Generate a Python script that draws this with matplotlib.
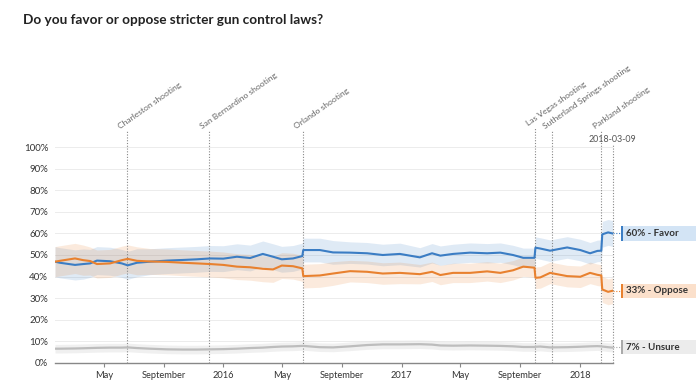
import numpy as np
import pandas as pd
import matplotlib
matplotlib.use("Agg")
import matplotlib.pyplot as plt
import matplotlib.dates as mdates
import matplotlib.transforms as mtransforms
from matplotlib.patches import Rectangle

plt.rcParams['font.family'] = ['Lato', 'DejaVu Sans']

# poll average
dates = pd.to_datetime([
    "2015-01-21", "2015-01-31", "2015-03-03", "2015-03-20", "2015-04-03", "2015-04-17",
    "2015-05-14", "2015-06-07", "2015-06-19", "2015-07-08", "2015-08-04", "2015-09-08",
    "2015-10-10", "2015-11-08", "2015-12-05",
    "2016-01-01", "2016-01-29", "2016-02-25", "2016-03-22", "2016-04-12", "2016-04-30",
    "2016-05-23", "2016-06-11", "2016-06-13", "2016-07-17", "2016-08-13", "2016-09-17",
    "2016-10-22", "2016-11-23", "2016-12-28",
    "2017-02-07", "2017-03-04", "2017-03-21", "2017-04-16", "2017-05-21", "2017-06-25",
    "2017-07-22", "2017-08-17", "2017-09-07", "2017-09-30", "2017-10-02", "2017-10-12",
    "2017-11-01", "2017-12-06",
    "2018-01-02", "2018-01-22", "2018-02-06", "2018-02-14", "2018-02-16", "2018-02-28",
    "2018-03-09"])

favor = [46.9, 46.4, 45.4, 45.8, 46.1, 47.4, 47.1, 46.1, 45.2, 46.4, 46.9, 47.4, 47.7, 48.0, 48.4,
         48.3, 49.2, 48.6, 50.5, 49.2, 48.0, 48.4, 49.5, 52.3, 52.3, 51.2, 51.1, 50.8, 50.0, 50.5,
         48.9, 50.8, 49.7, 50.5, 51.1, 50.8, 51.1, 50.0, 48.7, 48.7, 53.4, 53.0, 52.0, 53.5,
         52.3, 50.8, 51.9, 52.0, 59.6, 60.5, 60.0]
oppose = [46.9, 47.3, 48.4, 47.6, 47.2, 45.8, 46.1, 47.6, 48.2, 47.3, 47.0, 46.8, 46.4, 46.1, 45.8,
          45.4, 44.6, 44.3, 43.6, 43.3, 45.1, 44.8, 43.8, 40.2, 40.5, 41.4, 42.5, 42.2, 41.4, 41.7,
          41.1, 42.2, 40.7, 41.7, 41.7, 42.4, 41.7, 42.9, 44.6, 44.1, 39.4, 39.6, 41.7, 40.2,
          39.9, 41.7, 40.8, 40.5, 34.0, 32.9, 33.4]
unsure = [6.5, 6.5, 6.6, 6.7, 6.8, 6.9, 7.0, 7.0, 7.1, 6.8, 6.5, 6.2, 6.1, 6.1, 6.2,
          6.3, 6.5, 6.8, 7.0, 7.3, 7.5, 7.6, 7.8, 7.8, 7.2, 7.1, 7.6, 8.2, 8.5, 8.5,
          8.6, 8.4, 8.0, 7.9, 8.0, 7.9, 7.8, 7.6, 7.3, 7.3, 7.4, 7.5, 7.1, 7.2,
          7.4, 7.6, 7.7, 7.6, 7.5, 7.2, 7.0]
# margin of error (half width of the shaded bands)
moe = [7, 7, 7, 7, 6.5, 6.5, 6.5, 6.5, 6.5, 6.5, 6, 6, 6, 6, 6,
       6, 6, 6, 6, 6, 6, 6, 6, 5.5, 5.5, 5.5, 5, 5, 5, 5,
       4.5, 4.5, 4.5, 4.5, 4.5, 4.5, 4.5, 4.5, 4.5, 4.5, 5, 5, 5, 5,
       5, 5, 5, 5, 6, 6, 6]
moe_unsure = 2.0

events = ["Charleston shooting", "San Bernardino shooting", "Orlando shooting",
          "Las Vegas shooting", "Sutherland Springs shooting", "Parkland shooting"]
event_dates = pd.to_datetime(["2015-06-17", "2015-12-02", "2016-06-12",
                              "2017-10-01", "2017-11-05", "2018-02-14"])
last_date = pd.Timestamp("2018-03-09")

tick_dates = pd.to_datetime(["2015-05-01", "2015-09-01", "2016-01-01", "2016-05-01",
                             "2016-09-01", "2017-01-01", "2017-05-01", "2017-09-01", "2018-01-01"])
tick_labels = ["May", "September", "2016", "May", "September", "2017", "May", "September", "2018"]

end_labels = ["60% - Favor", "33% - Oppose", "7% - Unsure"]
end_values = [60, 33.4, 7.2]

blue = "#3b7dc4"
orange = "#e8812f"
grey = "#bdbdbd"

W, H = 700, 384
fig = plt.figure(figsize=(7, 3.84), dpi=100)
ax = fig.add_axes([55 / W, 1 - 362.7 / H, 558 / W, 215.4 / H])

favor = np.array(favor)
oppose = np.array(oppose)
unsure = np.array(unsure)
moe = np.array(moe)

ax.fill_between(dates, unsure - moe_unsure, unsure + moe_unsure, color="#e6e6e6", alpha=0.6, lw=0)
ax.fill_between(dates, favor - moe, favor + moe, color=blue, alpha=0.16, lw=0)
ax.fill_between(dates, oppose - moe, oppose + moe, color=orange, alpha=0.16, lw=0)
ax.plot(dates, unsure, color=grey, lw=1.6, solid_joinstyle="round")
ax.plot(dates, favor, color=blue, lw=1.5, solid_joinstyle="round")
ax.plot(dates, oppose, color=orange, lw=1.5, solid_joinstyle="round")

ax.set_xlim(pd.Timestamp("2015-01-21"), pd.Timestamp("2018-03-10"))
ax.set_ylim(0, 100)

ax.set_yticks(range(0, 101, 10))
ax.set_yticklabels([f"{v}%" for v in range(0, 101, 10)])
ax.set_xticks(tick_dates)
ax.set_xticklabels(tick_labels)
ax.tick_params(axis="y", length=0, pad=5, labelsize=7, labelcolor="#333333")
ax.tick_params(axis="x", length=3, width=0.8, color="#888888", pad=3, labelsize=6.7,
               labelcolor="#333333")
for v in range(10, 101, 10):
    ax.axhline(v, color="#ececec", lw=0.7, zorder=0)
for s in ["top", "right", "left"]:
    ax.spines[s].set_visible(False)
ax.spines["bottom"].set_color("#888888")
ax.spines["bottom"].set_linewidth(1.0)

# event markers
trans = mtransforms.blended_transform_factory(ax.transData, ax.transAxes)
tops = [1.075, 1.075, 1.075, 1.09, 1.075, 1.075]
for name, d, top in zip(events, event_dates, tops):
    xd = mdates.date2num(d)
    ax.plot([xd, xd], [0, top], transform=trans, color="#888888", lw=0.8, ls=(0, (1, 1.5)),
            clip_on=False, zorder=1)
    ax.annotate(name, xy=(xd, top), xycoords=trans, xytext=(-4, 1), textcoords="offset points",
                rotation=35, rotation_mode="anchor", ha="left", va="bottom",
                fontsize=6.1, color="#666666")
xl = mdates.date2num(last_date)
ax.plot([xl, xl], [0, 1.01], transform=trans, color="#888888", lw=0.8,
        ls=(0, (1, 1.5)), clip_on=False, zorder=1)
ax.text(xl, 1.035, last_date.strftime("%Y-%m-%d"), transform=trans, ha="center",
        va="center", fontsize=6.4, color="#555555")

# end labels
ftrans = mtransforms.blended_transform_factory(fig.transFigure, ax.transData)
box_colors = ["#d3e4f5", "#fbe0cb", "#ececec"]
bar_colors = [blue, orange, "#aaaaaa"]
for lab, v, bc, c in zip(end_labels, end_values, box_colors, bar_colors):
    h = 6.6
    fig.add_artist(Rectangle((621 / W, v - h / 2), 75 / W, h, transform=ftrans,
                             facecolor=bc, edgecolor="none"))
    fig.add_artist(Rectangle((621 / W, v - h / 2), 2 / W, h, transform=ftrans,
                             facecolor=c, edgecolor="none"))
    fig.add_artist(plt.Line2D([613 / W, 621 / W], [v, v], transform=ftrans, color=c,
                              lw=0.8, ls=(0, (1, 1.5))))
    fig.text(626 / W, v, lab, transform=ftrans, ha="left", va="center", fontsize=7,
             fontweight="bold", color="#333333")

fig.text(23 / W, 1 - 20 / H, "Do you favor or oppose stricter gun control laws?",
         fontsize=9.8, fontweight="bold", color="#222222", va="center", ha="left")

fig.savefig("out.png", dpi=100)
